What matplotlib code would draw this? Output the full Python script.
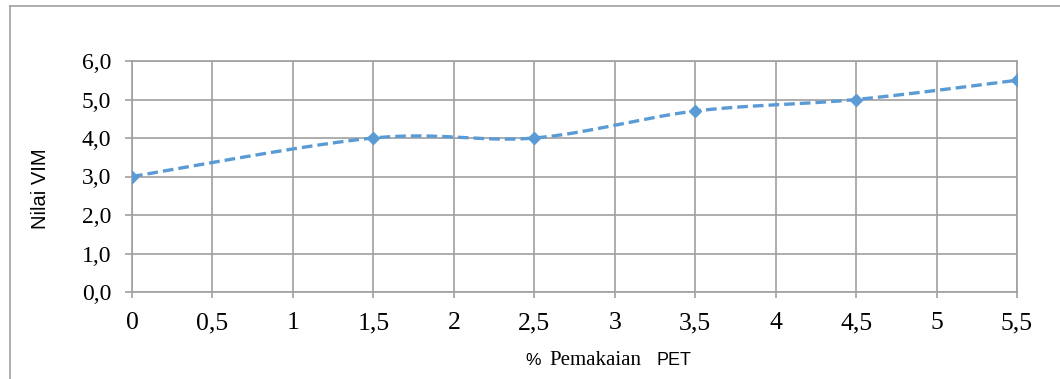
import matplotlib
matplotlib.use('Agg')
import matplotlib.pyplot as plt
from matplotlib.lines import Line2D
from matplotlib.ticker import FuncFormatter
import numpy as np

# PET content (%) and VIM values
pet = [0, 1.5, 2.5, 3.5, 4.5, 5.5]
vim = [3.0, 4.0, 4.0, 4.7, 5.0, 5.5]
x_ticks = [0, 0.5, 1, 1.5, 2, 2.5, 3, 3.5, 4, 4.5, 5, 5.5]
y_ticks = [0, 1, 2, 3, 4, 5, 6]

W, H = 1060, 379
GRID = '#a0a0a0'
BLUE = '#5b9bd5'


def smooth(xs, ys, n=60):
    # spreadsheet-style smoothed line: cubic Bezier through each point pair
    p = np.column_stack([xs, ys]).astype(float)
    ext = np.vstack([p[0], p, p[-1]])
    t = np.linspace(0, 1, n)[:, None]
    out = []
    for i in range(len(p) - 1):
        p0, p1 = ext[i + 1], ext[i + 2]
        c1 = p0 + (ext[i + 2] - ext[i]) / 6
        c2 = p1 - (ext[i + 3] - ext[i + 1]) / 6
        seg = ((1 - t) ** 3) * p0 + 3 * ((1 - t) ** 2) * t * c1 + 3 * (1 - t) * t ** 2 * c2 + t ** 3 * p1
        out.append(seg if i == 0 else seg[1:])
    out = np.vstack(out)
    return out[:, 0], out[:, 1]


fig = plt.figure(figsize=(W / 100, H / 100), dpi=100)
ax = fig.add_axes([132 / W, 1 - 292 / H, (1017 - 132) / W, (292 - 61) / H])

ax.set_xlim(0, 5.5)
ax.set_ylim(0, 6)
ax.set_xticks(x_ticks)
ax.set_yticks(y_ticks)
ax.xaxis.set_major_formatter(FuncFormatter(lambda v, p: ('%g' % v).replace('.', ',')))
ax.yaxis.set_major_formatter(FuncFormatter(lambda v, p: ('%.1f' % v).replace('.', ',')))
ax.grid(True, color=GRID, linewidth=1.2)
ax.set_axisbelow(True)
for s in ax.spines.values():
    s.set_color(GRID)
    s.set_linewidth(1.2)

ax.tick_params(axis='y', length=5, width=1.2, color=GRID, pad=10,
               labelsize=17, labelfontfamily='Liberation Serif')
ax.tick_params(axis='x', length=4.5, width=1.2, color=GRID, pad=10,
               labelsize=18.5, labelfontfamily='Liberation Serif')

sx, sy = smooth(pet, vim)
ax.plot(sx, sy, color=BLUE, linewidth=2.4, dashes=(3.2, 1.5), zorder=3)
ax.plot(pet, vim, linestyle='none', marker='D', markersize=6, color=BLUE, zorder=4)

# axis titles
fig.text(41 / W, 1 - 189 / H, 'Nilai VIM', rotation=90, ha='center', va='center',
         fontsize=14.5, family='Liberation Sans')
fig.text(525 / W, 1 - 365 / H, '%', ha='left', va='baseline', fontsize=12.5, family='Liberation Sans')
fig.text(549 / W, 1 - 365 / H, 'Pemakaian', ha='left', va='baseline', fontsize=15, family='Liberation Serif')
fig.text(656 / W, 1 - 365 / H, 'PET', ha='left', va='baseline', fontsize=13, family='Liberation Sans')

# chart area border (top and left edges)
fig.add_artist(Line2D([10 / W, 1], [1 - 6 / H, 1 - 6 / H], color=GRID, linewidth=1.2))
fig.add_artist(Line2D([10 / W, 10 / W], [0, 1 - 6 / H], color=GRID, linewidth=1.2))

fig.savefig('out.png', dpi=100)
